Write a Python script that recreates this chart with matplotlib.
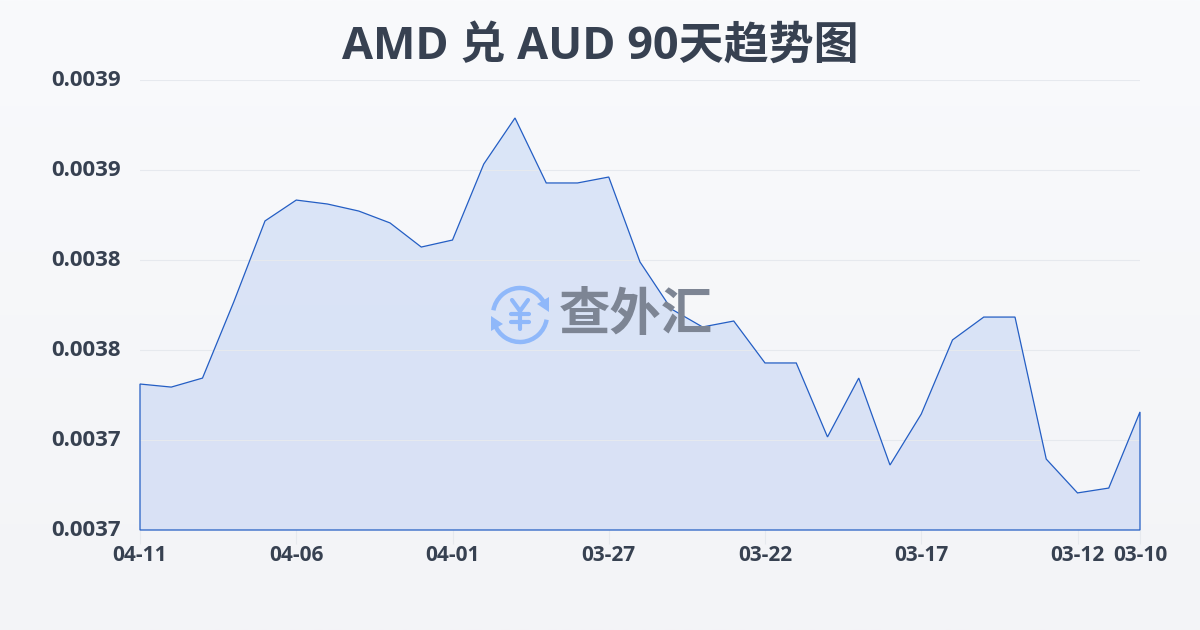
import numpy as np
import matplotlib
matplotlib.use("Agg")
import matplotlib.pyplot as plt
from matplotlib.patches import Arc, Polygon

plt.rcParams['font.family'] = ['Open Sans', 'Noto Sans CJK SC', 'DejaVu Sans']

rates = [0.0037311, 0.0037294, 0.0037344, 0.0037767, 0.0038217, 0.0038333, 0.0038311,
         0.0038272, 0.0038206, 0.0038072, 0.0038111, 0.0038533, 0.0038789, 0.0038428,
         0.0038428, 0.0038461, 0.0037989, 0.0037728, 0.0037628, 0.0037661, 0.0037428,
         0.0037428, 0.0037017, 0.0037344, 0.0036861, 0.0037144, 0.0037556, 0.0037683,
         0.0037683, 0.0036894, 0.0036706, 0.0036733, 0.0037156]
x_ticks = [0, 5, 10, 15, 20, 25, 30, 32]
x_labels = ['04-11', '04-06', '04-01', '03-27', '03-22', '03-17', '03-12', '03-10']
y_ticks = [0.00365, 0.0037, 0.00375, 0.0038, 0.00385, 0.0039]
y_labels = ['0.0037', '0.0037', '0.0038', '0.0038', '0.0039', '0.0039']

text_col = '#374151'
line_col = '#245ec4'
icon_col = '#8fb8fa'

fig = plt.figure(figsize=(12, 6.3), dpi=100)

# page background gradient
bg = fig.add_axes([0, 0, 1, 1], zorder=0)
bg.imshow(np.linspace(0, 1, 256).reshape(-1, 1), aspect='auto', extent=[0, 1, 0, 1],
          cmap=matplotlib.colors.LinearSegmentedColormap.from_list('bg', ['#f9fafc', '#f3f4f7']))
bg.axis('off')

ax = fig.add_axes([140 / 1200, 100 / 630, 1000 / 1200, 450 / 630], zorder=1)
ax.patch.set_alpha(0)
days = np.arange(len(rates))
ax.set_xlim(0, 32)
ax.set_ylim(0.00365, 0.0039)

# area with a soft vertical gradient, clipped to the series
grad = ax.imshow(np.linspace(0, 1, 256).reshape(-1, 1), aspect='auto',
                 extent=[0, 32, 0.00365, 0.0039], zorder=2,
                 cmap=matplotlib.colors.LinearSegmentedColormap.from_list('area', ['#dbe6f8', '#d9e1f5']))
outline = list(zip(days, rates)) + [(32, 0.00365), (0, 0.00365)]
clip = Polygon(outline, closed=True, transform=ax.transData, fc='none', ec='none')
ax.add_patch(clip)
grad.set_clip_path(clip)
ax.add_patch(Polygon(outline, closed=True, fc='none', ec=line_col, lw=0.9, zorder=4, clip_on=False))

ax.set_yticks(y_ticks)
ax.set_yticklabels(y_labels)
ax.set_xticks(x_ticks)
ax.set_xticklabels(x_labels)
ax.grid(axis='y', color='#e6e9ee', lw=0.8, zorder=3)
ax.set_axisbelow(False)
ax.tick_params(axis='y', length=0, pad=13.5, labelsize=16, labelcolor=text_col)
ax.tick_params(axis='x', length=10, width=0.8, color='#e6e9ee', pad=1, labelsize=15, labelcolor=text_col)
for lab in ax.get_xticklabels() + ax.get_yticklabels():
    lab.set_fontweight('bold')
for lab in ax.get_yticklabels():
    lab.set_verticalalignment('center')
for s in ax.spines.values():
    s.set_visible(False)

fig.text(0.5, 1 - 47 / 630, 'AMD 兑 AUD 90天趋势图', ha='center', va='center',
         fontsize=32.4, fontweight='bold', color=text_col)

# watermark, in pixel coordinates
wm = fig.add_axes([0, 0, 1, 1], zorder=5)
wm.patch.set_alpha(0)
wm.set_xlim(0, 1200)
wm.set_ylim(630, 0)
wm.axis('off')
wm.add_patch(Arc((520, 315), 54, 54, theta1=10, theta2=160, color=icon_col, lw=3.2))
wm.add_patch(Arc((520, 315), 54, 54, theta1=190, theta2=340, color=icon_col, lw=3.2))
wm.add_patch(Polygon([(549, 297), (549, 312), (537, 304)], closed=True, fc=icon_col, ec='none'))
wm.add_patch(Polygon([(491, 316), (491, 331), (503, 324)], closed=True, fc=icon_col, ec='none'))
# yen sign
wm.plot([512, 520, 528], [300, 311, 300], color=icon_col, lw=3, solid_capstyle='round')
wm.plot([520, 520], [311, 329], color=icon_col, lw=3, solid_capstyle='round')
wm.plot([511, 529], [314, 314], color=icon_col, lw=3, solid_capstyle='round')
wm.plot([511, 529], [322, 322], color=icon_col, lw=3, solid_capstyle='round')
wm.text(636, 317, '查外汇', ha='center', va='center', fontsize=37, fontweight='bold', color='#7d8594')

fig.savefig('out.png', dpi=100)
